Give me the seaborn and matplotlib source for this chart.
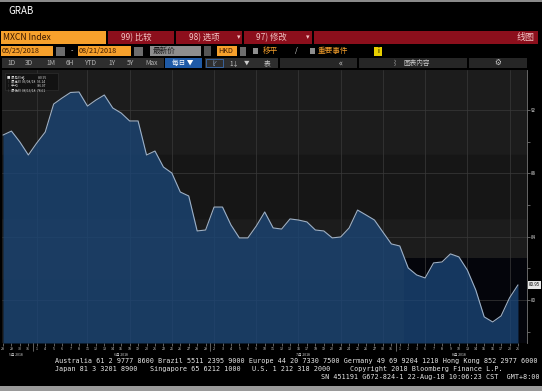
import numpy as np
import pandas as pd
import seaborn as sns
import matplotlib.pyplot as plt
from matplotlib.patches import Rectangle

# MXCN Index daily closes, 2018-05-28 .. 2018-08-21 (business days)
dates = pd.bdate_range('2018-05-28', '2018-08-21')
prices = [90.42, 90.67, 89.98, 89.16, 89.92, 90.61, 92.38, 92.76, 93.11, 93.14,
          92.25, 92.63, 92.95, 92.13, 91.81, 91.31, 91.31, 89.16, 89.41, 88.40,
          88.02, 86.82, 86.57, 84.36, 84.42, 85.87, 85.87, 84.74, 83.92, 83.92,
          84.67, 85.56, 84.55, 84.48, 85.12, 85.05, 84.93, 84.42, 84.36, 83.92,
          83.98, 84.55, 85.68, 85.37, 85.05, 84.29, 83.54, 83.41, 82.02, 81.58,
          81.39, 82.34, 82.40, 82.91, 82.72, 81.89, 80.63, 78.93, 78.61, 78.99,
          80.13, 80.95]
month_labels = ['5月 2018', '6月 2018', '7月 2018', '8月 2018']
y_major = [80, 84, 88, 92]
y_minor = [78, 82, 86, 90]

df = pd.DataFrame({'i': np.arange(len(dates)), 'date': dates, 'price': prices})

sns.set_theme(style='dark')
plt.rcParams['font.family'] = ['Noto Sans CJK SC', 'DejaVu Sans']

W, H = 542, 391
fig = plt.figure(figsize=(W / 100, H / 100), dpi=100, facecolor='black')


def box(x0, y0, x1, y1, color, ec='none'):
    fig.patches.append(Rectangle((x0 / W, 1 - y1 / H), (x1 - x0) / W, (y1 - y0) / H,
                                 transform=fig.transFigure, facecolor=color,
                                 edgecolor=ec, lw=0.5, zorder=0))


def txt(x, y, s, color='white', size=5, ha='left', **kw):
    fig.text(x / W, 1 - y / H, s, color=color, fontsize=size, ha=ha, va='center', **kw)


# window frame
box(0, 0, W, 2, '#8a8a8a')
box(0, 386, W, H, '#9a9a9a')
txt(8, 11, 'GRAB', size=7)

# toolbar row 1
orange = '#f7a12c'
red = '#8c0f1c'
box(1, 31, 106, 44, orange)
txt(3, 37.5, 'MXCN Index', color='#3a1800', size=6.2)
box(108, 31, 174, 44, red)
box(176, 31, 242, 44, red)
box(244, 31, 312, 44, red)
box(314, 31, 538, 44, red)
pink = '#f2c4c4'
txt(121, 37.5, '99) 比较', color=pink, size=6)
txt(189, 37.5, '98) 选项', color=pink, size=6)
txt(237, 37.5, '▾', color=pink, size=5)
txt(256, 37.5, '97) 修改', color=pink, size=6)
txt(306, 37.5, '▾', color=pink, size=5)
txt(535, 37.5, '线图', color=pink, size=6.5, ha='right')

# toolbar row 2
box(1, 46, 53, 56, orange)
txt(2, 51, '05/25/2018', color='#3a1800', size=5.2)
box(56, 47, 65, 56, '#6d6d6d')
txt(71, 51, '-', size=5)
box(78, 46, 131, 56, orange)
txt(79, 51, '08/21/2018', color='#3a1800', size=5.2)
box(134, 47, 143, 56, '#6d6d6d')
box(150, 46, 201, 56, '#8e8e8e')
txt(153, 51, '最新价', color='#1a1a1a', size=5.5)
box(204, 46, 211, 56, '#555555')
box(217, 46, 237, 56, orange)
txt(218, 51, 'HKD', color='#3a1800', size=5.2)
box(240, 47, 246, 56, '#6d6d6d')
box(253, 48, 258, 54, '#8e8e8e')
txt(263, 51, '移平', color=orange, size=5.5)
txt(295, 51, '/', color='#dddddd', size=5)
box(310, 48, 315, 54, '#8e8e8e')
txt(318, 51, '重要事件', color=orange, size=5.5)
box(374, 47, 382, 56, '#e8d000')
txt(378, 51, 'i', color='black', size=5, ha='center')

# toolbar row 3
box(2, 58, 164, 68, '#2e2e2e')
for lab, xp in zip(['1D', '3D', '1M', '6H', 'YTD', '1Y', '5Y', 'Max'],
                   [12, 29, 51, 70, 91, 112, 130, 152]):
    txt(xp, 63, lab, color='#b5b5b5', size=4.8, ha='center')
box(165, 58, 202, 68, '#1f5aa6')
txt(183, 63, '每日 ▼', size=4.8, ha='center')
box(205, 58, 278, 68, '#2e2e2e')
box(206, 59, 223, 67, '#2e2e2e', ec='#3d78c8')
txt(214, 63, '⌊⁄', color='#9ab8e0', size=4.5, ha='center')
txt(234, 63, '1↓', color='#cccccc', size=4.5, ha='center')
txt(247, 63, '▼', color='#cccccc', size=4, ha='center')
txt(267, 63, '表', color='#cccccc', size=4.8, ha='center')
box(280, 58, 357, 68, '#262626')
txt(341, 63, '«', color='#cccccc', size=6, ha='center')
box(359, 58, 467, 68, '#262626')
txt(395, 63, '⌇', color='#cccccc', size=4.5, ha='center')
txt(417, 63, '图表内容', color='#cccccc', size=4.8, ha='center')
box(469, 58, 527, 68, '#262626')
txt(498, 63, '⚙', color='#cccccc', size=5.5, ha='center')

# chart
ax = fig.add_axes([2 / W, 1 - 343 / H, 525 / W, 273 / H])
ax.set_facecolor('#1c1c1c')
ylo, yhi = 77.28, 94.53
ax.set_xlim(-0.12, 62.07)
ax.set_ylim(ylo, yhi)

# background bands
for a, b in [(89.16, 85.18), (81.26, ylo)]:
    ax.axhspan(b, a, color='#161616', zorder=0)
# darker zone on the right
ax.add_patch(Rectangle((47.5, ylo), 62.07 - 47.5, 82.65 - ylo, facecolor='#04050b',
                       edgecolor='none', zorder=0.5))

# weekly gridlines (month start in the first week, then Mondays)
grid_x = [int(df.loc[df.date == pd.Timestamp('2018-06-01'), 'i'].iloc[0])]
grid_x += [int(df.loc[df.date == d, 'i'].iloc[0]) for d in dates
           if d.weekday() == 0 and d >= pd.Timestamp('2018-06-11')]
for gx in grid_x:
    ax.axvline(gx, color='#3a3a3a', lw=0.5, zorder=1)
for gy in y_major:
    ax.axhline(gy, color='#3a3a3a', lw=0.5, zorder=1)

ax.fill_between(df.i, df.price, ylo, color='#1b4677', alpha=0.78, lw=0, zorder=2)
sns.lineplot(data=df, x='i', y='price', ax=ax, color='#9db0c6', lw=0.8, zorder=3)

ax.set_xlabel('')
ax.set_ylabel('')
for s in ax.spines.values():
    s.set_visible(False)
ax.spines['right'].set_visible(True)
ax.spines['right'].set_color('#777777')
ax.spines['right'].set_linewidth(0.6)

ax.set_xticks(df.i)
ax.set_xticklabels([str(d.day) for d in dates], fontsize=2.6, color='#d0d0d0')
ax.tick_params(axis='x', length=2, width=0.4, color='#aaaaaa', pad=0.6, bottom=True)
ax.yaxis.tick_right()
ax.set_yticks(y_major)
ax.set_yticks(y_minor, minor=True)
ax.set_yticklabels([str(v) for v in y_major], fontsize=3.2, color='#dddddd')
ax.tick_params(axis='y', which='both', length=2, width=0.4, color='#aaaaaa', pad=1, right=True)
ax.grid(False)

# month labels and boundaries
for m, lab in zip([5, 6, 7, 8], month_labels):
    idx = df.i[df.date.dt.month == m]
    ax.text(idx.mean(), -0.037, lab, transform=ax.get_xaxis_transform(), fontsize=2.5,
            color='#d0d0d0', ha='center', va='top')
    if m > 5:
        ax.plot([idx.min() - 0.5] * 2, [-0.03, 0], transform=ax.get_xaxis_transform(),
                color='#aaaaaa', lw=0.4, clip_on=False)

# last price tag
last = prices[-1]
ax.text(1.004, last, f'{last:.2f}', transform=ax.get_yaxis_transform(), fontsize=3.2,
        color='black', va='center', ha='left',
        bbox=dict(boxstyle='square,pad=0.25', fc='#e6e6e6', ec='none'))

# legend box
hi_i = int(np.argmax(prices))
lo_i = int(np.argmin(prices))
ax.add_patch(Rectangle((0.006, 0.925), 0.1, 0.065, transform=ax.transAxes,
                       facecolor='#121212', edgecolor='#333333', lw=0.4, zorder=4))
leg = [f'■ 最后价格                  {last:.2f}',
       f'┆ 最高价 {dates[hi_i]:%m/%d/%y}  {prices[hi_i]:.2f}',
       f'┆ 平均                          {np.mean(prices):.2f}',
       f'┆ 最低价 {dates[lo_i]:%m/%d/%y}  {prices[lo_i]:.2f}']
for k, s in enumerate(leg):
    ax.text(0.01, 0.98 - k * 0.016, s, transform=ax.transAxes, fontsize=2.4,
            color='#dddddd', va='top', zorder=5)

# footer
mono = dict(family='DejaVu Sans Mono', size=4.9, color='#e8e8e8')
txt(55, 361, 'Australia 61 2 9777 8600 Brazil 5511 2395 9000 Europe 44 20 7330 7500 '
             'Germany 49 69 9204 1210 Hong Kong 852 2977 6000', **mono)
txt(55, 369, 'Japan 81 3 3201 8900', **mono)
txt(150, 369, 'Singapore 65 6212 1000', **mono)
txt(252, 369, 'U.S. 1 212 318 2000', **mono)
txt(350, 369, 'Copyright 2018 Bloomberg Finance L.P.', **mono)
txt(540, 377, 'SN 451191 G672-824-1 22-Aug-18 10:06:23 CST  GMT+8:00', ha='right', **mono)

fig.savefig('out.png', dpi=100, facecolor='black')
